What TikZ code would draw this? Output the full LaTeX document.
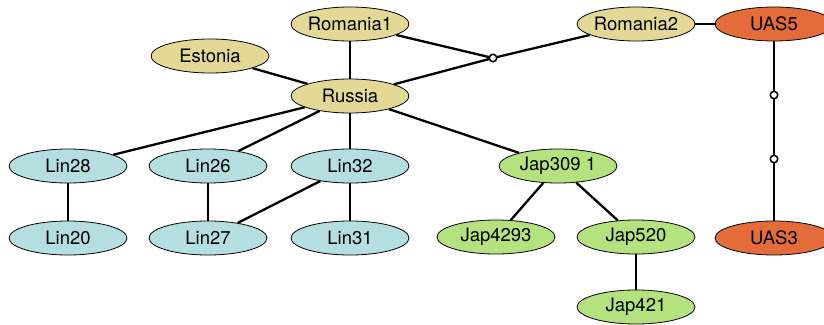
\documentclass[tikz,border=0pt]{standalone}
\usepackage{fontspec}
\setmainfont{TeX Gyre Heros}
\usetikzlibrary{shapes.geometric}
\definecolor{khakic}{HTML}{E3D896}
\definecolor{bluec}{HTML}{B5DEE0}
\definecolor{greenc}{HTML}{B4E27E}
\definecolor{orangec}{HTML}{E36C3A}
\tikzset{
  nd/.style={ellipse, draw=black, line width=0.8pt, minimum width=118pt, minimum height=34pt, inner ysep=0pt, inner xsep=-12pt, font=\fontsize{18.5}{18.5}\selectfont},
  kh/.style={nd, fill=khakic},
  bl/.style={nd, fill=bluec},
  gr/.style={nd, fill=greenc},
  og/.style={nd, fill=orangec},
  junc/.style={circle, draw=black, line width=1.5pt, fill=white, inner sep=0pt, minimum size=7.5pt},
  edge/.style={line width=2.3pt, black}
}
\begin{document}
\begin{tikzpicture}[x=1pt,y=-1pt]
\useasboundingbox (0,0) rectangle (824,324);
\node[kh] (rom1) at (350,24) {Romania1};
\node[kh] (est) at (210,56) {Estonia};
\node[kh] (rus) at (350,96) {Russia};
\node[kh] (rom2) at (636,24) {Romania2};
\node[og] (uas5) at (774,24) {UAS5};
\node[og] (uas3) at (774,238) {UAS3};
\node[bl] (l28) at (68,166) {Lin28};
\node[bl] (l26) at (208,166) {Lin26};
\node[bl] (l32) at (350,166) {Lin32};
\node[bl] (l20) at (68,238) {Lin20};
\node[bl] (l27) at (208,238) {Lin27};
\node[bl] (l31) at (350,238) {Lin31};
\node[gr] (j309) at (558,166) {Jap309 1};
\node[gr] (j4293) at (496,237) {Jap4293};
\node[gr] (j520) at (636,237) {Jap520};
\node[gr] (j421) at (636,307) {Jap421};
\coordinate (jc) at (493,58);
\coordinate (u1) at (774,95);
\coordinate (u2) at (774,159);
\draw[edge] (rom1) -- (rus);
\draw[edge] (est) -- (rus);
\draw[edge] (rom1) -- (jc);
\draw[edge] (rus) -- (jc);
\draw[edge] (jc) -- (rom2);
\draw[edge] (rom2) -- (uas5);
\draw[edge] (uas5) -- (u1);
\draw[edge] (u1) -- (u2);
\draw[edge] (u2) -- (uas3);
\draw[edge] (rus) -- (l28);
\draw[edge] (rus) -- (l26);
\draw[edge] (rus) -- (l32);
\draw[edge] (rus) -- (j309);
\draw[edge] (l28) -- (l20);
\draw[edge] (l26) -- (l27);
\draw[edge] (l32) -- (l27);
\draw[edge] (l32) -- (l31);
\draw[edge] (j309) -- (j4293);
\draw[edge] (j309) -- (j520);
\draw[edge] (j520) -- (j421);
\node[junc] (jcn) at (jc) {};
\node[junc] (u1n) at (u1) {};
\node[junc] (u2n) at (u2) {};
\end{tikzpicture}
\end{document}
